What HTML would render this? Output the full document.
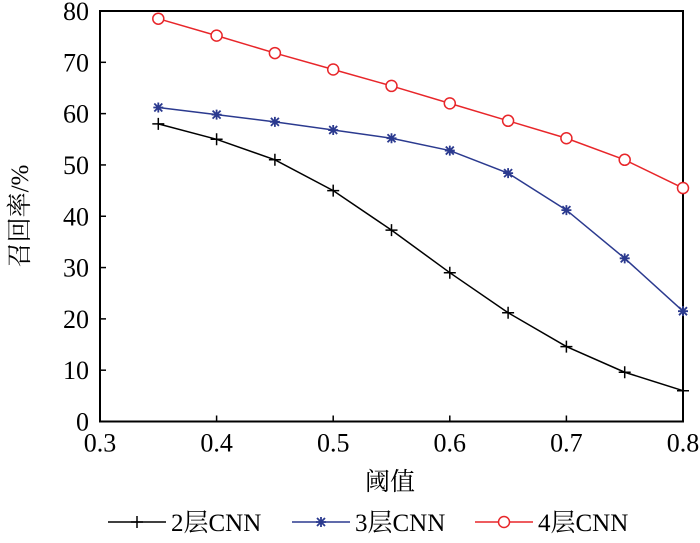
<!DOCTYPE html>
<html><head><meta charset="utf-8"><style>
body{margin:0;background:#fff}
svg text{font-family:"Liberation Serif","Noto Serif CJK SC",serif;fill:#000}
</style></head><body>
<svg width="700" height="538" viewBox="0 0 700 538">
<g id="axes"></g><g id="series"></g><g id="legend"></g>
</svg>
<script>
const xValues=[0.35,0.4,0.45,0.5,0.55,0.6,0.65,0.7,0.75,0.8];
const cnn2=[58,55,51,45,37.3,29,21.2,14.6,9.6,6];
const cnn3=[61.2,59.8,58.4,56.8,55.2,52.8,48.4,41.2,31.8,21.5];
const cnn4=[78.5,75.2,71.8,68.6,65.4,62,58.6,55.2,51,45.5];
const xTicks=[0.3,0.4,0.5,0.6,0.7,0.8];
const yTicks=[0,10,20,30,40,50,60,70,80];
const L=100,R=683,T=11,B=421.5;
const sx=v=>L+(v-0.3)/0.5*(R-L), sy=v=>B-v/80*(B-T);
const NS='http://www.w3.org/2000/svg';
function mk(p,tag,a){const e=document.createElementNS(NS,tag);for(const k in a)e.setAttribute(k,a[k]);p.appendChild(e);return e;}
const ax=document.getElementById('axes');
let fr=mk(ax,'rect',{x:L,y:T,width:R-L,height:B-T,fill:'none',stroke:'#000','stroke-width':2});


xTicks.forEach(v=>{const x=sx(v);
 mk(ax,'line',{x1:x,x2:x,y1:B,y2:B-6,stroke:'#000','stroke-width':1.5});
 const t=mk(ax,'text',{x:x,y:B+30,'text-anchor':'middle','font-size':26});t.textContent=v.toFixed(1);
 
 });
yTicks.forEach(v=>{const y=sy(v);
 mk(ax,'line',{x1:L,x2:L+6,y1:y,y2:y,stroke:'#000','stroke-width':1.5});
 const t=mk(ax,'text',{x:L-11,y:y+9,'text-anchor':'end','font-size':26});t.textContent=v;
 
 });
let xt=mk(ax,'text',{x:390,y:490,'text-anchor':'middle','font-size':25});xt.textContent='阈值';


let yt=mk(ax,'text',{x:0,y:0,'text-anchor':'middle','font-size':25,transform:'translate(28,216) rotate(-90)'});yt.textContent='召回率/%';


function marker(g,type,x,y,c){
 if(type==='plus'){mk(g,'path',{d:`M${x-6} ${y}H${x+6}M${x} ${y-6}V${y+6}`,stroke:c,'stroke-width':1.5});}
 else if(type==='star'){mk(g,'path',{d:`M${x-5} ${y}H${x+5}M${x} ${y-5}V${y+5}M${x-4} ${y-4}L${x+4} ${y+4}M${x-4} ${y+4}L${x+4} ${y-4}`,stroke:c,'stroke-width':1.8});}
 else mk(g,'circle',{cx:x,cy:y,r:5.5,fill:'#fff',stroke:c,'stroke-width':1.5});
}
const series=[[cnn2,'#000','plus','2层CNN',108],[cnn3,'#2b3a8f','star','3层CNN',292],[cnn4,'#e8262a','circle','4层CNN',475]];
const sg=document.getElementById('series'),lg=document.getElementById('legend');
series.forEach(([d,c,m,name,lx],i)=>{
 const g=mk(sg,'g',{});
 
 
 mk(g,'polyline',{points:d.map((v,j)=>sx(xValues[j])+','+sy(v)).join(' '),fill:'none',stroke:c,'stroke-width':1.5});
 d.forEach((v,j)=>marker(g,m,sx(xValues[j]),sy(v),c));
 const e=mk(lg,'g',{});
 
 
 mk(e,'line',{x1:lx,x2:lx+58,y1:522,y2:522,stroke:c,'stroke-width':1.5});
 marker(e,m,lx+29,522,c);
 const t=mk(e,'text',{x:lx+63,y:531,'font-size':25});t.textContent=name;
});
</script>
</body></html>
